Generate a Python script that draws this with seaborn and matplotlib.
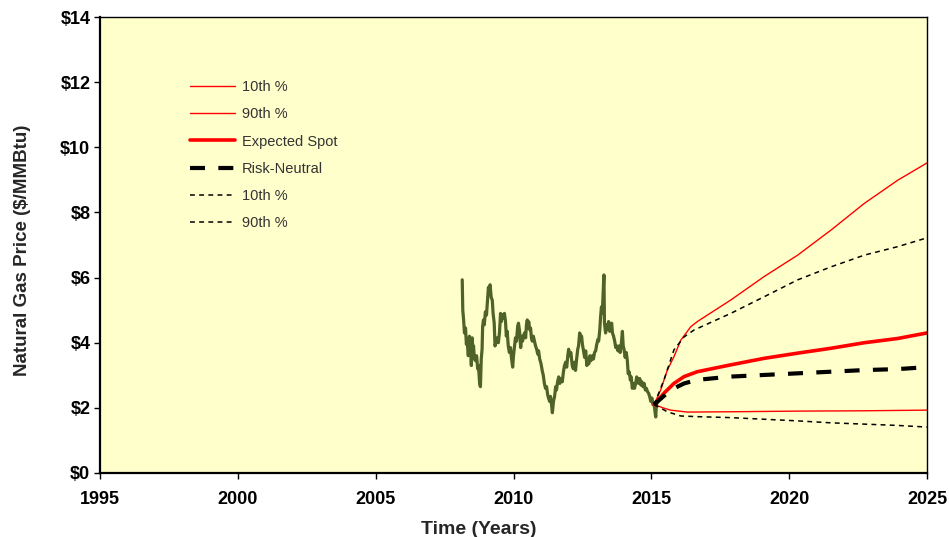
import matplotlib
matplotlib.use("Agg")
import matplotlib.pyplot as plt
import seaborn as sns
import pandas as pd
from matplotlib.ticker import FuncFormatter

# ---------------- data ----------------
hist_years = [2008.14, 2008.16, 2008.19, 2008.22, 2008.26, 2008.29, 2008.32, 2008.36, 2008.40, 2008.44,
              2008.47, 2008.50, 2008.53, 2008.55, 2008.58, 2008.62, 2008.66, 2008.70, 2008.73, 2008.77,
              2008.80, 2008.83, 2008.86, 2008.88, 2008.91, 2008.94, 2008.98, 2009.02, 2009.05, 2009.09,
              2009.12, 2009.15, 2009.19, 2009.23, 2009.26, 2009.30, 2009.33, 2009.36, 2009.41, 2009.45,
              2009.49, 2009.53, 2009.56, 2009.59, 2009.63, 2009.67, 2009.71, 2009.74, 2009.77, 2009.81,
              2009.85, 2009.89, 2009.93, 2009.97, 2010.00, 2010.04, 2010.07, 2010.11, 2010.15, 2010.18,
              2010.22, 2010.26, 2010.30, 2010.33, 2010.36, 2010.40, 2010.44, 2010.47, 2010.50, 2010.53,
              2010.55, 2010.59, 2010.62, 2010.65, 2010.68, 2010.72, 2010.76, 2010.80, 2010.84, 2010.88,
              2010.91, 2010.95, 2011.00, 2011.04, 2011.08, 2011.12, 2011.16, 2011.20, 2011.24, 2011.27,
              2011.31, 2011.34, 2011.38, 2011.41, 2011.45, 2011.49, 2011.53, 2011.56, 2011.60, 2011.64,
              2011.68, 2011.72, 2011.77, 2011.81, 2011.85, 2011.89, 2011.93, 2011.97, 2012.00, 2012.04,
              2012.08, 2012.13, 2012.17, 2012.21, 2012.25, 2012.29, 2012.33, 2012.36, 2012.40, 2012.44,
              2012.47, 2012.50, 2012.54, 2012.58, 2012.62, 2012.66, 2012.70, 2012.73, 2012.77, 2012.81,
              2012.86, 2012.90, 2012.94, 2012.98, 2013.02, 2013.06, 2013.09, 2013.13, 2013.16, 2013.19,
              2013.22, 2013.25, 2013.28, 2013.30, 2013.34, 2013.37, 2013.41, 2013.45, 2013.49, 2013.53,
              2013.56, 2013.59, 2013.63, 2013.67, 2013.71, 2013.75, 2013.79, 2013.83, 2013.87, 2013.91,
              2013.95, 2013.98, 2014.01, 2014.05, 2014.09, 2014.13, 2014.16, 2014.20, 2014.24, 2014.27,
              2014.31, 2014.35, 2014.39, 2014.43, 2014.47, 2014.50, 2014.54, 2014.58, 2014.62, 2014.66,
              2014.70, 2014.74, 2014.78, 2014.82, 2014.86, 2014.90, 2014.94, 2014.98, 2015.02, 2015.06,
              2015.10, 2015.13, 2015.16, 2015.18, 2015.20]
hist_price = [5.93, 5.00, 4.70, 4.30, 4.45, 3.95, 4.05, 3.60, 4.20, 3.95,
              3.30, 4.15, 3.75, 3.90, 3.50, 3.45, 3.60, 3.20, 3.30, 2.75,
              2.65, 3.50, 3.80, 4.50, 4.70, 4.55, 4.95, 4.85, 5.20, 5.70,
              5.50, 5.78, 5.40, 5.30, 4.90, 4.60, 3.90, 4.00, 4.15, 4.00,
              4.30, 4.90, 4.65, 4.85, 4.75, 4.90, 4.65, 4.20, 4.35, 3.90,
              3.70, 3.85, 3.50, 3.25, 3.60, 3.90, 4.15, 4.05, 4.50, 4.60,
              4.35, 3.85, 4.20, 4.05, 4.20, 4.30, 4.15, 4.55, 4.70, 4.45,
              4.65, 4.40, 4.45, 4.15, 4.05, 4.20, 4.05, 3.90, 3.80, 3.65,
              3.75, 3.50, 3.35, 3.15, 3.00, 2.75, 2.60, 2.65, 2.40, 2.30,
              2.20, 2.35, 2.10, 1.85, 2.20, 2.35, 2.65, 2.55, 2.80, 2.95,
              2.75, 2.90, 2.80, 3.10, 3.30, 3.40, 3.25, 3.60, 3.80, 3.60,
              3.70, 3.30, 3.20, 3.40, 3.15, 3.50, 3.80, 3.90, 4.30, 4.15,
              4.20, 3.95, 3.75, 3.55, 3.75, 3.30, 3.50, 3.35, 3.60, 3.45,
              3.60, 3.50, 3.70, 3.75, 3.95, 4.10, 4.05, 4.40, 4.80, 5.10,
              4.90, 5.50, 6.08, 4.60, 4.30, 4.55, 4.40, 4.65, 4.35, 4.45,
              4.60, 4.30, 4.20, 4.05, 3.85, 3.90, 3.75, 3.90, 3.70, 3.95,
              4.35, 3.90, 3.80, 3.55, 3.70, 3.45, 3.05, 3.10, 2.85, 2.95,
              2.60, 2.75, 2.60, 2.75, 2.95, 2.85, 2.75, 2.90, 2.70, 2.80,
              2.65, 2.75, 2.55, 2.60, 2.50, 2.45, 2.35, 2.20, 2.30, 2.10,
              2.15, 1.90, 1.72, 2.05, 2.15]

red90_years = [2015.10, 2015.34, 2015.58, 2015.82, 2016.07, 2016.43, 2016.67, 2017.88, 2019.09,
               2020.31, 2021.52, 2022.73, 2023.94, 2025.00]
red90_vals = [2.10, 2.55, 3.16, 3.57, 4.08, 4.49, 4.65, 5.31, 6.03, 6.69, 7.46, 8.28, 8.99, 9.52]

red10_years = [2015.10, 2015.46, 2015.70, 2016.31, 2017.88, 2020.31, 2022.73, 2025.00]
red10_vals = [2.10, 1.99, 1.93, 1.87, 1.88, 1.90, 1.91, 1.93]

spot_years = [2015.10, 2015.46, 2015.82, 2016.19, 2016.67, 2017.88, 2019.09, 2020.31, 2021.52,
              2022.73, 2023.94, 2025.00]
spot_vals = [2.10, 2.45, 2.75, 2.96, 3.11, 3.32, 3.52, 3.68, 3.83, 4.00, 4.13, 4.30]

rn_years = [2015.10, 2015.70, 2016.19, 2016.67, 2017.88, 2019.09, 2020.31, 2021.52, 2022.73,
            2023.94, 2025.00]
rn_vals = [2.10, 2.55, 2.75, 2.86, 2.96, 3.01, 3.06, 3.11, 3.16, 3.19, 3.25]

blk90_years = [2015.10, 2015.46, 2015.82, 2016.19, 2016.55, 2017.88, 2019.09, 2020.31, 2021.52,
               2022.73, 2023.94, 2025.00]
blk90_vals = [2.10, 2.86, 3.78, 4.18, 4.39, 4.90, 5.41, 5.93, 6.33, 6.69, 6.95, 7.22]

blk10_years = [2015.10, 2015.58, 2016.07, 2016.67, 2017.88, 2019.09, 2020.31, 2021.52, 2022.73,
               2023.94, 2025.00]
blk10_vals = [2.10, 1.88, 1.75, 1.73, 1.70, 1.65, 1.60, 1.54, 1.50, 1.46, 1.41]

x_ticks = [1995, 2000, 2005, 2010, 2015, 2020, 2025]
y_ticks = [0, 2, 4, 6, 8, 10, 12, 14]

# ---------------- style ----------------
sns.set_style("ticks")
plt.rcParams['font.family'] = ['Liberation Sans', 'DejaVu Sans']

fig = plt.figure(figsize=(9.49, 5.37), dpi=100)
ax = fig.add_axes([0.1054, 0.1192, 0.8714, 0.8491])
ax.set_facecolor("#FFFFCC")

common = dict(ax=ax, estimator=None, sort=False)

sns.lineplot(x=hist_years, y=hist_price, color="#4F6228", lw=2.3, legend=False, **common)

sns.lineplot(x=red10_years, y=red10_vals, color="#FF0000", lw=1.0, label="10th %", **common)
sns.lineplot(x=red90_years, y=red90_vals, color="#FF0000", lw=1.0, label="90th %", **common)
sns.lineplot(x=spot_years, y=spot_vals, color="#FF0000", lw=2.6, label="Expected Spot", **common)
sns.lineplot(x=rn_years, y=rn_vals, color="#000000", lw=3.0, label="Risk-Neutral", **common)
sns.lineplot(x=blk10_years, y=blk10_vals, color="#000000", lw=1.1, label="10th %", **common)
sns.lineplot(x=blk90_years, y=blk90_vals, color="#000000", lw=1.1, label="90th %", **common)

lines = ax.get_lines()
# lines: hist, r10, r90, spot, rn, b10, b90
lines[4].set_dashes((3.6, 3.2))
lines[5].set_dashes((3.2, 2.8))
lines[6].set_dashes((3.2, 2.8))

ax.set_xlim(1995, 2025)
ax.set_ylim(0, 14)
ax.set_xticks(x_ticks)
ax.set_yticks(y_ticks)
ax.yaxis.set_major_formatter(FuncFormatter(lambda v, p: f"${int(v)}"))

for s in ax.spines.values():
    s.set_visible(True)
    s.set_color("black")
    s.set_linewidth(1.0)
ax.spines['left'].set_linewidth(1.6)
ax.spines['bottom'].set_linewidth(1.6)

ax.tick_params(axis='both', direction='out', length=4, width=1, pad=3,
               labelsize=13, colors='black')
ax.tick_params(axis='x', pad=9)
for lab in ax.get_xticklabels() + ax.get_yticklabels():
    lab.set_fontweight('bold')

ax.set_xlabel("Time (Years)", fontsize=14, fontweight='bold')
ax.set_ylabel("Natural Gas Price ($/MMBtu)", fontsize=13.5, fontweight='bold')
ax.xaxis.set_label_coords(0.458, -0.106)
ax.yaxis.set_label_coords(-0.084, 0.489)

handles, labels = ax.get_legend_handles_labels()
leg = ax.legend(handles, labels, loc='upper left', bbox_to_anchor=(0.093, 0.89), frameon=False,
                fontsize=10.5, handlelength=3.1, handletextpad=0.45, labelspacing=0.9)
for t in leg.get_texts():
    t.set_color("#333333")

fig.savefig("out.png", dpi=100, facecolor="white")
